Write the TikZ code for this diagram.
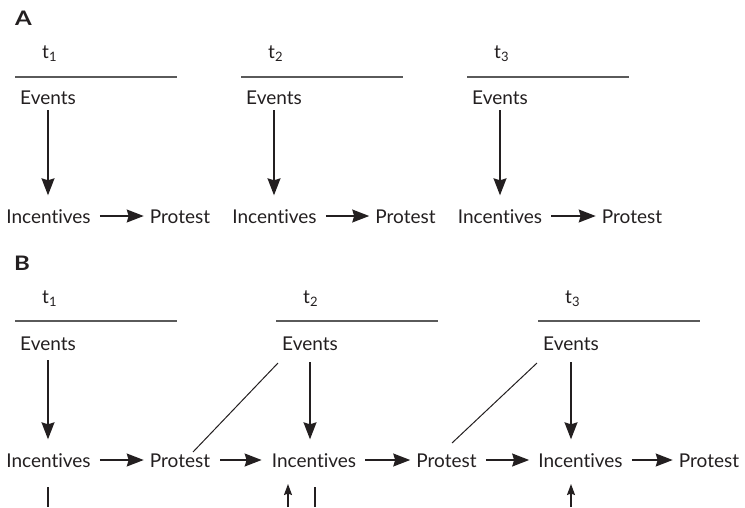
\documentclass[tikz,border=0pt]{standalone}
\usepackage{fontspec}
\setmainfont[Ligatures={NoCommon,NoRare}]{Lato}
\usetikzlibrary{arrows.meta,calc}
\definecolor{ink}{HTML}{231F20}
\definecolor{rulegray}{HTML}{5A5A5A}
\begin{document}
\begin{tikzpicture}[x=1pt,y=-1pt,
  lbl/.style={font=\fontsize{19}{22}\selectfont, inner sep=0pt,
    text height=14pt, text depth=0pt, anchor=base, text=ink},
  tlbl/.style={font=\fontsize{19}{22}\selectfont, inner sep=0pt,
    anchor=base west, text=ink},
  panel/.style={font=\fontsize{20}{24}\selectfont\bfseries, inner sep=0pt,
    anchor=base, text=ink},
  timeline/.style={draw=rulegray, line width=1.8pt},
  arr/.style={draw=ink, line width=1.4pt,
    -{Stealth[length=17pt,width=13pt,inset=2pt]}},
  downarr/.style={arr, shorten <=6pt, shorten >=13.5pt},
  rightarr/.style={arr, shorten <=9pt, shorten >=6pt},
  smallarr/.style={draw=ink, line width=1.4pt,
    -{Stealth[length=11pt,width=8pt,inset=1.5pt]}},
  plain/.style={draw=ink, line width=1.4pt},
  link/.style={draw=ink, line width=1pt}]
\useasboundingbox (0,0) rectangle (745,507);
\newcommand{\tsub}[1]{t\raisebox{-0.35ex}{\fontsize{13}{13}\selectfont #1}}
\newcommand{\panelmark}[1]{\scalebox{1.2}[1]{#1}}

% ---------- Panel A: three separate periods ----------
\node[panel] (labA) at (23.5,25) {\panelmark{A}};
\foreach \L/\k in {15/1,241/2,467/3}{
  \draw[timeline] (\L,77) -- ++(162,0);
  \node[tlbl] (tA\k) at (\L+27,58) {\tsub{\k}};
}
\node[lbl] (eA1) at (48,104) {Events};
\node[lbl] (eA2) at (274,104) {Events};
\node[lbl] (eA3) at (500,104) {Events};
\node[lbl] (iA1) at (48.5,223) {Incentives};
\node[lbl] (iA2) at (274.5,223) {Incentives};
\node[lbl] (iA3) at (500,223) {Incentives};
\node[lbl] (pA1) at (180,223) {Protest};
\node[lbl] (pA2) at (405.5,223) {Protest};
\node[lbl] (pA3) at (632,223) {Protest};
\foreach \k in {1,2,3}{
  \draw[downarr] (eA\k.south) -- (eA\k.south |- iA\k.north);
  \draw[rightarr] (iA\k.east) -- (pA\k.west);
}

% ---------- Panel B: linked periods ----------
\node[panel] (labB) at (22,270) {\panelmark{B}};
\foreach \L/\k in {15/1,276/2,538/3}{
  \draw[timeline] (\L,321) -- ++(162,0);
  \node[tlbl] (tB\k) at (\L+27,303) {\tsub{\k}};
}
\node[lbl] (eB1) at (48,350) {Events};
\node[lbl] (eB2) at (310,350) {Events};
\node[lbl] (eB3) at (571,350) {Events};
\node[lbl] (iB1) at (48.5,467) {Incentives};
\node[lbl] (iB2) at (314,467) {Incentives};
\node[lbl] (iB3) at (580.5,467) {Incentives};
\node[lbl] (pB1) at (180,467) {Protest};
\node[lbl] (pB2) at (446.5,467) {Protest};
\node[lbl] (pB3) at (709,467) {Protest};

% events feed the incentives of their own period
\draw[arr, shorten <=10pt, shorten >=13.5pt] (eB1.south) -- (eB1.south |- iB1.north);
\draw[arr, shorten <=12pt, shorten >=13.5pt] (eB2.south) -- (eB2.south |- iB2.north);
\draw[arr, shorten <=12pt, shorten >=13.5pt] (eB3.south) -- (eB3.south |- iB3.north);

% the chain of incentives and protest
\draw[rightarr] (iB1.east) -- (pB1.west);
\draw[arr, shorten <=10pt, shorten >=10pt] (pB1.east) -- (iB2.west);
\draw[rightarr] (iB2.east) -- (pB2.west);
\draw[arr, shorten <=9pt, shorten >=9pt] (pB2.east) -- (iB3.west);
\draw[rightarr] (iB3.east) -- (pB3.west);

% protest ties back to the next period's events
\draw[link] ($(pB1.base)+(13,-15)$) -- ($(eB2.base)+(-32,13)$);
\draw[link] ($(pB2.base)+(5.5,-24)$) -- ($(eB3.base)+(-34,13)$);

% continuations running off the lower edge
\coordinate (cutA) at (48,507);
\coordinate (cutB) at (288,507);
\coordinate (cutC) at (315,507);
\coordinate (cutD) at (571,507);
\draw[plain] ($(iB1.base)+(-0.5,20)$) -- (cutA);
\draw[smallarr] (cutB) -- ($(iB2.base)+(-26,17)$);
\draw[plain] ($(iB2.base)+(1,20)$) -- (cutC);
\draw[smallarr] (cutD) -- ($(iB3.base)+(-9.5,17)$);
\end{tikzpicture}
\end{document}
